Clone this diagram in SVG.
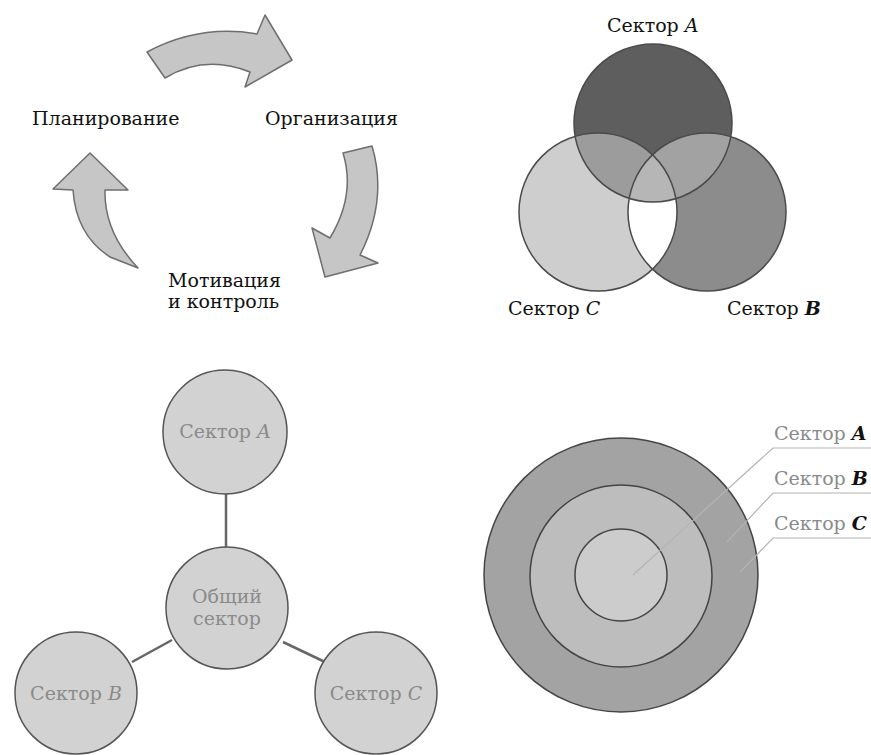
<svg xmlns="http://www.w3.org/2000/svg" width="871" height="755" viewBox="0 0 871 755">
<style>
.lbl{font-family:"DejaVu Serif","Liberation Serif",serif;font-size:19px;fill:#111111}
.glbl{font-family:"DejaVu Serif","Liberation Serif",serif;font-size:19px;fill:#8a8a8a}
.arrow{fill:#c6c6c6;stroke:#6e6e6e;stroke-width:1.5;stroke-linejoin:round}
.node{fill:#d2d2d2;stroke:#555555;stroke-width:1.5}
.ring{stroke:#444444;stroke-width:1.5}
.edge{stroke:#666666;stroke-width:2.5}
.lead{fill:none;stroke:#b4b4b4;stroke-width:1.2}
.vout{fill:none;stroke:#4a4a4a;stroke-width:1.5}
</style>
<defs>
<clipPath id="clipC"><circle cx="598" cy="212" r="79"/></clipPath>
<clipPath id="clipB"><circle cx="707" cy="212" r="79"/></clipPath>
</defs>
<rect width="871" height="755" fill="#ffffff"/>

<!-- Cycle diagram -->
<g id="cycle">
<g id="arrow-top"><path class="arrow" d="M147,52 Q200,24 257,34 L265,15 L292,60 L245,87 L250,72 Q205,54 165,78 Z"/></g>
<g id="arrow-right"><path class="arrow" d="M343,153 L372,146 Q388,200 360,255 L378,263 L325,277 L312,228 L330,238 Q356,195 343,153 Z"/></g>
<g id="arrow-left"><path class="arrow" d="M138,268 Q104,232 105,190 L128,190 L90,153 L53,189 L73,190 Q76,235 110,257 Z"/></g>
<g id="node-plan"><text class="lbl" x="32" y="125">Планирование</text></g>
<g id="node-org"><text class="lbl" x="265" y="125">Организация</text></g>
<g id="node-motiv"><text class="lbl" x="168" y="287">Мотивация</text><text class="lbl" x="168" y="308">и контроль</text></g>
</g>

<!-- Venn diagram -->
<g id="venn">
<circle cx="598" cy="212" r="79" fill="#cecece"/>
<circle cx="707" cy="212" r="79" fill="#8c8c8c"/>
<circle cx="707" cy="212" r="79" fill="#ffffff" clip-path="url(#clipC)"/>
<circle cx="653" cy="123" r="79" fill="#5e5e5e"/>
<circle cx="653" cy="123" r="79" fill="#9c9c9c" clip-path="url(#clipC)"/>
<circle cx="653" cy="123" r="79" fill="#a2a2a2" clip-path="url(#clipB)"/>
<g clip-path="url(#clipB)"><circle cx="653" cy="123" r="79" fill="#b6b6b6" clip-path="url(#clipC)"/></g>
<g id="venn-A"><circle class="vout" cx="653" cy="123" r="79"/><text class="lbl" x="607" y="32">Сектор <tspan font-style="italic">A</tspan></text></g>
<g id="venn-C"><circle class="vout" cx="598" cy="212" r="79"/><text class="lbl" x="508" y="315">Сектор <tspan font-style="italic">C</tspan></text></g>
<g id="venn-B"><circle class="vout" cx="707" cy="212" r="79"/><text class="lbl" x="727" y="315">Сектор <tspan font-style="italic" font-weight="bold">B</tspan></text></g>
</g>

<!-- Star diagram -->
<g id="star">
<g id="connectors">
<line class="edge" x1="226" y1="493" x2="226" y2="547"/>
<line class="edge" x1="172" y1="640" x2="132" y2="662"/>
<line class="edge" x1="283" y1="642" x2="325" y2="662"/>
</g>
<g id="star-A"><circle class="node" cx="225" cy="432" r="62"/><text class="glbl" x="225" y="438" text-anchor="middle">Сектор <tspan font-style="italic">A</tspan></text></g>
<g id="star-common"><circle class="node" cx="227" cy="608" r="61"/><text class="glbl" x="227" y="603" text-anchor="middle">Общий</text><text class="glbl" x="227" y="625" text-anchor="middle">сектор</text></g>
<g id="star-B"><circle class="node" cx="76" cy="693" r="61"/><text class="glbl" x="76" y="700" text-anchor="middle">Сектор <tspan font-style="italic">B</tspan></text></g>
<g id="star-C"><circle class="node" cx="376" cy="693" r="61"/><text class="glbl" x="376" y="700" text-anchor="middle">Сектор <tspan font-style="italic">C</tspan></text></g>
</g>

<!-- Concentric diagram -->
<g id="rings">
<g id="ring-C"><circle class="ring" cx="621" cy="575" r="137" fill="#a3a3a3"/></g>
<g id="ring-B"><circle class="ring" cx="621" cy="576" r="91" fill="#bdbdbd"/></g>
<g id="ring-A"><circle class="ring" cx="621" cy="575" r="46" fill="#cccccc"/></g>
<g id="leaders">
<polyline class="lead" points="633,575 773,448 871,448"/>
<polyline class="lead" points="727,542 773,493 871,493"/>
<polyline class="lead" points="740,572 773,538 871,538"/>
</g>
<g id="label-A"><text class="glbl" x="774" y="440">Сектор <tspan fill="#111" font-style="italic" font-weight="bold">A</tspan></text></g>
<g id="label-B"><text class="glbl" x="774" y="485">Сектор <tspan fill="#111" font-style="italic" font-weight="bold">B</tspan></text></g>
<g id="label-C"><text class="glbl" x="774" y="530">Сектор <tspan fill="#111" font-style="italic" font-weight="bold">C</tspan></text></g>
</g>
</svg>
